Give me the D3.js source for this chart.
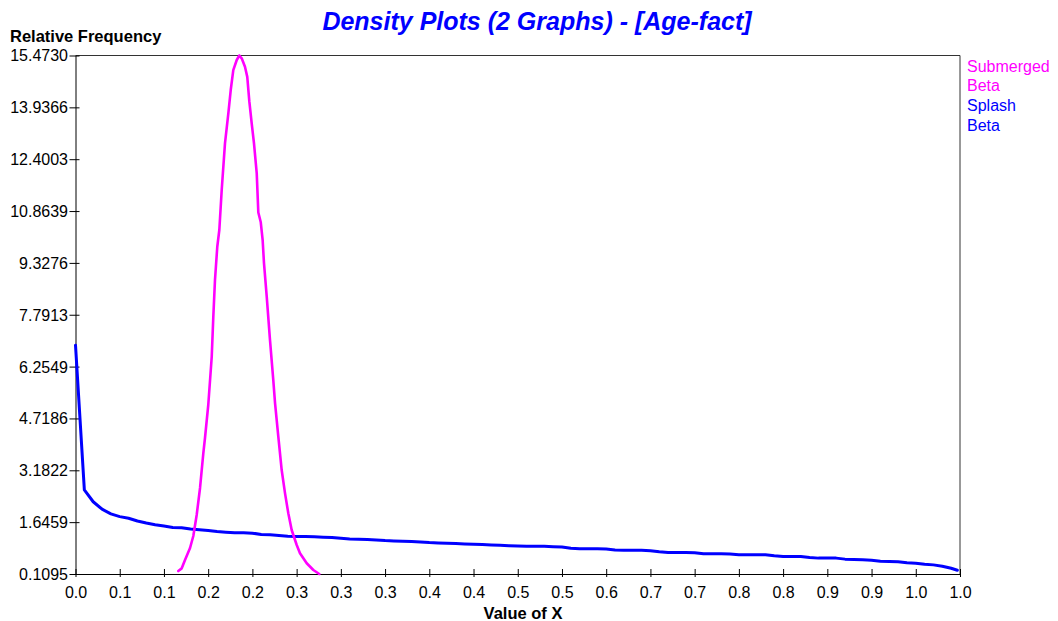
<!DOCTYPE html>
<html>
<head>
<meta charset="utf-8">
<script src="https://cdn.jsdelivr.net/npm/d3@7"></script>
<style>
  html, body { margin: 0; padding: 0; background: #fff; }
  svg { display: block; font-family: "Liberation Sans", Arial, sans-serif; }
</style>
</head>
<body>
<svg id="chart" width="1058" height="621"></svg>
<script>
// ---------- DATA ----------
const titleText = "Density Plots (2 Graphs) - [Age-fact]";
const yAxisTitle = "Relative Frequency";
const xAxisTitle = "Value of X";
const seriesNames = ["Submerged\nBeta", "Splash\nBeta"];
const seriesColors = ["#ff00ff", "#0000ff"];

const yTickValues = [0.1095, 1.6459, 3.1822, 4.7186, 6.2549, 7.7913, 9.3276, 10.8639, 12.4003, 13.9366, 15.4730];
const yTickLabels = ["0.1095", "1.6459", "3.1822", "4.7186", "6.2549", "7.7913", "9.3276", "10.8639", "12.4003", "13.9366", "15.4730"];

const xTickValues = [0.00, 0.05, 0.10, 0.15, 0.20, 0.25, 0.30, 0.35, 0.40, 0.45, 0.50, 0.55, 0.60, 0.65, 0.70, 0.75, 0.80, 0.85, 0.90, 0.95, 1.00];
const xTickLabels = ["0.0", "0.1", "0.1", "0.2", "0.2", "0.3", "0.3", "0.3", "0.4", "0.4", "0.5", "0.5", "0.6", "0.7", "0.7", "0.8", "0.8", "0.9", "0.9", "1.0", "1.0"];

// Submerged Beta density
const submergedX = [0.1162, 0.1201, 0.1238, 0.1295, 0.1332, 0.1370, 0.1408, 0.1445, 0.1464, 0.1501, 0.1540, 0.1558, 0.1577, 0.1603, 0.1626, 0.1653, 0.1690, 0.1728, 0.1755, 0.1784, 0.1823, 0.1852, 0.1879, 0.1916, 0.1942, 0.1965, 0.1992, 0.2018, 0.2049, 0.2067, 0.2094, 0.2116, 0.2131, 0.2162, 0.2199, 0.2236, 0.2256, 0.2293, 0.2331, 0.2369, 0.2406, 0.2444, 0.2501, 0.2538, 0.2614, 0.2689, 0.2756];
const submergedY = [0.198, 0.277, 0.524, 0.880, 1.235, 1.858, 2.658, 3.686, 4.139, 5.117, 6.539, 7.724, 8.821, 9.807, 10.302, 11.487, 12.871, 13.760, 14.450, 15.040, 15.340, 15.473, 15.390, 15.140, 14.840, 14.120, 13.460, 12.870, 11.980, 10.820, 10.540, 10.000, 9.320, 8.330, 7.040, 5.860, 5.170, 4.180, 3.190, 2.500, 1.908, 1.413, 0.969, 0.723, 0.427, 0.228, 0.110];

// Splash Beta density
const splashX = [0.00, 0.01, 0.02, 0.03, 0.04, 0.05, 0.06, 0.07, 0.08, 0.09, 0.10, 0.11, 0.12, 0.13, 0.14, 0.15, 0.16, 0.17, 0.18, 0.19, 0.20, 0.21, 0.22, 0.23, 0.24, 0.25, 0.26, 0.27, 0.28, 0.29, 0.30, 0.31, 0.32, 0.33, 0.34, 0.35, 0.36, 0.37, 0.38, 0.39, 0.40, 0.41, 0.42, 0.43, 0.44, 0.45, 0.46, 0.47, 0.48, 0.49, 0.50, 0.51, 0.52, 0.53, 0.54, 0.55, 0.56, 0.57, 0.58, 0.59, 0.60, 0.61, 0.62, 0.63, 0.64, 0.65, 0.66, 0.67, 0.68, 0.69, 0.70, 0.71, 0.72, 0.73, 0.74, 0.75, 0.76, 0.77, 0.78, 0.79, 0.80, 0.81, 0.82, 0.83, 0.84, 0.85, 0.86, 0.87, 0.88, 0.89, 0.90, 0.91, 0.92, 0.93, 0.94, 0.95, 0.96, 0.97, 0.98, 0.99, 0.997];
const splashY = [6.89, 2.60, 2.25, 2.03, 1.89, 1.81, 1.76, 1.68, 1.62, 1.57, 1.53, 1.49, 1.48, 1.44, 1.42, 1.40, 1.37, 1.35, 1.33, 1.33, 1.32, 1.28, 1.27, 1.25, 1.23, 1.22, 1.22, 1.21, 1.20, 1.19, 1.17, 1.15, 1.14, 1.13, 1.12, 1.10, 1.09, 1.08, 1.07, 1.06, 1.04, 1.03, 1.02, 1.01, 1.00, 0.99, 0.98, 0.97, 0.96, 0.95, 0.94, 0.93, 0.93, 0.93, 0.92, 0.91, 0.87, 0.86, 0.86, 0.86, 0.85, 0.82, 0.81, 0.81, 0.81, 0.80, 0.77, 0.75, 0.75, 0.75, 0.74, 0.71, 0.71, 0.71, 0.70, 0.68, 0.68, 0.68, 0.68, 0.65, 0.63, 0.63, 0.63, 0.60, 0.58, 0.58, 0.58, 0.55, 0.54, 0.53, 0.52, 0.49, 0.48, 0.47, 0.44, 0.43, 0.40, 0.38, 0.34, 0.28, 0.22];

// ---------- CHART ----------
const svg = d3.select("#chart");
const L = 75.5, R = 960, T = 55.5, B = 574;

const x = d3.scaleLinear().domain([0, 1]).range([L, R]);
const y = d3.scaleLinear().domain([0.1095, 15.4730]).range([B, T]);

// frame (top and right)
svg.append("path")
  .attr("d", `M${L},${T}H${R}V${B}`)
  .attr("fill", "none").attr("stroke", "#333").attr("stroke-width", 1);

// Y axis
const yAxis = svg.append("g").attr("transform", `translate(${L},0)`)
  .call(d3.axisLeft(y).tickValues(yTickValues).tickFormat((d, i) => yTickLabels[i]).tickSizeOuter(0).tickSizeInner(6).tickPadding(2));
yAxis.select(".domain").attr("stroke", "#000");
yAxis.selectAll(".tick line").attr("x1", 4).attr("x2", -6).attr("stroke", "#000");
yAxis.selectAll(".tick text").attr("font-size", 16).attr("fill", "#000")
  .attr("font-family", "'Liberation Sans', Arial, sans-serif").attr("dy", "0.34em").attr("x", -7.5);

// X axis
const xAxis = svg.append("g").attr("transform", `translate(0,${B})`)
  .call(d3.axisBottom(x).tickValues(xTickValues).tickFormat((d, i) => xTickLabels[i]).tickSizeOuter(0).tickSizeInner(3));
xAxis.select(".domain").attr("stroke", "#000");
xAxis.selectAll(".tick line").attr("y1", -5).attr("y2", 3).attr("stroke", "#000");
xAxis.selectAll(".tick text").attr("font-size", 16).attr("fill", "#000")
  .attr("font-family", "'Liberation Sans', Arial, sans-serif").attr("dy", 0).attr("y", 24);

// lines
const line = d3.line().x(d => x(d[0])).y(d => y(d[1]));
const series = [
  d3.zip(submergedX, submergedY),
  d3.zip(splashX, splashY)
];
const widths = [2.6, 3];
// draw splash first then submerged on top
[1, 0].forEach(i => {
  svg.append("path").datum(series[i])
    .attr("d", line).attr("fill", "none")
    .attr("stroke", seriesColors[i]).attr("stroke-width", widths[i])
    .attr("stroke-linejoin", "round").attr("stroke-linecap", "round");
});

// title
svg.append("text").attr("x", 537).attr("y", 30).attr("text-anchor", "middle")
  .attr("font-size", 25).attr("font-weight", "bold").attr("font-style", "italic")
  .attr("fill", "#0000ff").text(titleText);

// y title
svg.append("text").attr("x", 10).attr("y", 42)
  .attr("font-size", 16.5).attr("font-weight", "bold").attr("fill", "#000").text(yAxisTitle);

// x title
svg.append("text").attr("x", 523).attr("y", 619).attr("text-anchor", "middle")
  .attr("font-size", 16.5).attr("font-weight", "bold").attr("fill", "#000").text(xAxisTitle);

// legend
let ly = 71.5;
seriesNames.forEach((name, i) => {
  name.split("\n").forEach(part => {
    svg.append("text").attr("x", 967).attr("y", ly)
      .attr("font-size", 16).attr("fill", seriesColors[i]).text(part);
    ly += 19.7;
  });
});
</script>
</body>
</html>
